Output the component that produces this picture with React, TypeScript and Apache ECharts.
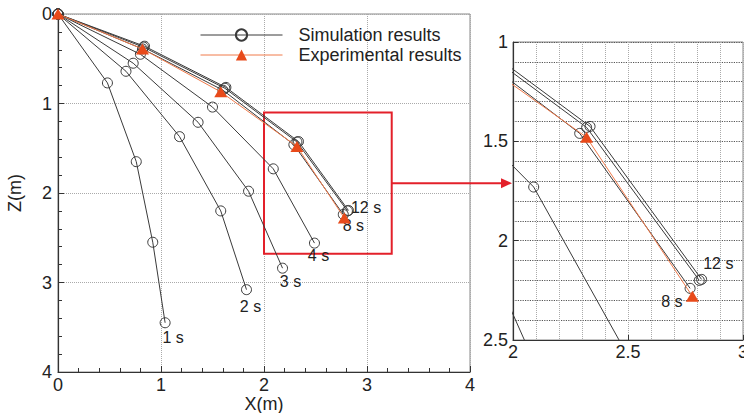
import React, { useEffect, useRef } from "react";
import * as echarts from "echarts";

// ---- data (x, z) in metres ----
const sim1s = [[0, 0], [0.48, 0.77], [0.76, 1.65], [0.92, 2.55], [1.04, 3.45]];
const sim2s = [[0, 0], [0.66, 0.64], [1.18, 1.37], [1.58, 2.2], [1.83, 3.08]];
const sim3s = [[0, 0], [0.73, 0.55], [1.36, 1.21], [1.85, 1.98], [2.18, 2.84]];
const sim4s = [[0, 0], [0.8, 0.45], [1.5, 1.04], [2.09, 1.73], [2.49, 2.56]];
const sim8s = [[0, 0], [0.82, 0.39], [1.6, 0.85], [2.29, 1.46], [2.77, 2.24]];
const sim12s = [[0, 0], [0.83, 0.37], [1.62, 0.83], [2.32, 1.43], [2.81, 2.2]];
const sim12sB = [[0, 0], [0.84, 0.36], [1.63, 0.82], [2.335, 1.425], [2.82, 2.195]];
const experimental = [[0, 0], [0.82, 0.39], [1.58, 0.87], [2.32, 1.48], [2.78, 2.28]];

const simCurves = [sim1s, sim2s, sim3s, sim4s, sim8s, sim12s, sim12sB];
const simLabels = ["1 s", "2 s", "3 s", "4 s", "8 s", "12 s", ""];

// zoom window shown on the right, and the highlight box on the left
const zoomX = [2, 3];
const zoomZ = [1, 2.5];
const boxFrom = [2, 1.1];
const boxTo = [3.24, 2.68];

const FONT = "'Liberation Sans', Arial, sans-serif";
const SIM_NAME = "Simulation results";
const EXP_NAME = "Experimental results";
const BLACK = "#3a3a3a";
const ORANGE_LINE = "#f07a4a";
const ORANGE = "#e84a1a";
const RED = "#e3202a";

// label placement per curve end (left chart, right chart)
const leftLabelPos: any[] = [
  { position: "bottom", offset: [8, -4] },
  { position: "bottom", offset: [4, -2] },
  { position: "bottom", offset: [8, -5] },
  { position: "bottom", offset: [4, -6] },
  { position: "bottom", offset: [10, -7] },
  { position: "right", offset: [-7, -3] },
  null,
];
const rightLabelPos: any[] = [null, null, null, null,
  { position: "left", offset: [3, 13] },
  { position: "top", offset: [19, 2] },
  null,
];

function buildData(curve: number[][], label: string, pos: any) {
  return curve.map((p, i) => {
    if (i === curve.length - 1 && label && pos) {
      return {
        value: p,
        label: {
          show: true,
          formatter: label,
          position: pos.position,
          offset: pos.offset,
          fontSize: 16,
          fontFamily: FONT,
          color: "#222",
        },
      };
    }
    return { value: p };
  });
}

export default function App() {
  const ref = useRef<HTMLDivElement>(null);
  useEffect(() => {
    if (!ref.current) return;
    const chart = echarts.init(ref.current, undefined, { renderer: "svg" });

    const series: any[] = [];
    [0, 1].forEach((g) => {
      simCurves.forEach((c, i) => {
        const pos = g === 0 ? leftLabelPos[i] : rightLabelPos[i];
        series.push({
          type: "line",
          name: SIM_NAME,
          xAxisIndex: g,
          yAxisIndex: g,
          data: buildData(c, simLabels[i], pos),
          symbol: "circle",
          symbolSize: 10,
          clip: true,
          lineStyle: { color: BLACK, width: 1 },
          itemStyle: { color: "rgba(255,255,255,0)", borderColor: BLACK, borderWidth: 1 },
          z: 3,
        });
      });
      series.push({
        type: "line",
        name: EXP_NAME,
        xAxisIndex: g,
        yAxisIndex: g,
        data: experimental,
        symbol: "triangle",
        symbolSize: [13, 11],
        clip: true,
        lineStyle: { color: ORANGE_LINE, width: 1 },
        itemStyle: { color: ORANGE },
        z: 4,
      });
    });
    series[0].markArea = {
      silent: true,
      itemStyle: { color: "rgba(0,0,0,0)", borderColor: RED, borderWidth: 2 },
      data: [[{ coord: boxFrom }, { coord: boxTo }]],
    };

    const tickLabel = { fontSize: 18, fontFamily: FONT, color: "#222" };

    chart.setOption({
      animation: false,
      backgroundColor: "#fff",
      grid: [
        { left: 58, top: 14, width: 412, height: 358, show: true, borderColor: "#888", borderWidth: 1, outerBoundsMode: "none", containLabel: false },
        { left: 513, top: 42, width: 230, height: 298, show: true, borderColor: "#888", borderWidth: 1, outerBoundsMode: "none", containLabel: false },
      ],
      legend: {
        left: 195,
        top: 21,
        orient: "vertical",
        itemWidth: 82,
        itemHeight: 14,
        itemGap: 2,
        data: [SIM_NAME, EXP_NAME],
        lineStyle: { width: 1 },
        textStyle: { fontSize: 18, fontFamily: FONT, color: "#222", padding: [0, 0, 0, 11] },
      },
      xAxis: [
        {
          type: "value", gridIndex: 0, min: 0, max: 4, interval: 1,
          name: "X(m)", nameLocation: "middle", nameGap: 23, nameMoveOverlap: false,
          nameTextStyle: { fontSize: 18, lineHeight: 18, fontFamily: FONT, color: "#222" },
          axisLine: { onZero: false, lineStyle: { color: "#333", width: 1.2 } },
          axisTick: { inside: true, length: 6, lineStyle: { color: "#333" } },
          minorTick: { show: true, splitNumber: 5, length: 4, lineStyle: { color: "#333" } },
          axisLabel: { ...tickLabel, lineHeight: 18, margin: 4 },
          splitLine: { show: true, lineStyle: { type: "dotted", color: "#aaa" } },
        },
        {
          type: "value", gridIndex: 1, min: zoomX[0], max: zoomX[1], interval: 0.5,
          axisLine: { onZero: false, lineStyle: { color: "#333", width: 1.2 } },
          axisTick: { inside: true, length: 5, lineStyle: { color: "#333" } },
          minorTick: { show: false, splitNumber: 5 },
          axisLabel: { ...tickLabel, margin: 3 },
          splitLine: { show: true, lineStyle: { type: "dotted", color: "#aaa" } },
          minorSplitLine: { show: true, lineStyle: { type: "dotted", color: "#aaa" } },
        },
      ],
      yAxis: [
        {
          type: "value", gridIndex: 0, min: 0, max: 4, interval: 1, inverse: true,
          name: "Z(m)", nameLocation: "middle", nameGap: 34, nameRotate: 90, nameMoveOverlap: false,
          nameTextStyle: { fontSize: 18, fontFamily: FONT, color: "#222" },
          axisLine: { onZero: false, lineStyle: { color: "#333", width: 1.2 } },
          axisTick: { inside: true, length: 6, lineStyle: { color: "#333" } },
          minorTick: { show: true, splitNumber: 5, length: 4, lineStyle: { color: "#333" } },
          axisLabel: { ...tickLabel, margin: 6 },
          splitLine: { show: true, lineStyle: { type: "dotted", color: "#aaa" } },
        },
        {
          type: "value", gridIndex: 1, min: zoomZ[0], max: zoomZ[1], interval: 0.5, inverse: true,
          axisLine: { onZero: false, lineStyle: { color: "#333", width: 1.2 } },
          axisTick: { inside: true, length: 5, lineStyle: { color: "#333" } },
          minorTick: { show: false, splitNumber: 5 },
          axisLabel: { ...tickLabel, margin: 5 },
          splitLine: { show: true, lineStyle: { type: "dotted", color: "#555", width: 1.2 } },
          minorSplitLine: { show: true, lineStyle: { type: "dotted", color: "#555", width: 1.2 } },
        },
      ],
      series,
    });

    // arrow from the box on the left to the zoomed plot
    const start = chart.convertToPixel({ gridIndex: 0 }, [boxTo[0], 1.89]) as number[];
    const endX = (chart.convertToPixel({ gridIndex: 1 }, [zoomX[0], zoomZ[0]]) as number[])[0] - 1;
    const y = start[1];
    chart.setOption({
      graphic: [
        { type: "line", shape: { x1: start[0], y1: y, x2: endX - 9, y2: y }, style: { stroke: RED, lineWidth: 2 }, z: 10 },
        { type: "polygon", shape: { points: [[endX - 11, y - 5], [endX, y], [endX - 11, y + 5]] }, style: { fill: RED }, z: 10 },
      ],
    });

    return () => chart.dispose();
  }, []);
  return <div ref={ref} style={{ position: "absolute", left: 0, top: 0, width: 744, height: 413 }} />;
}
